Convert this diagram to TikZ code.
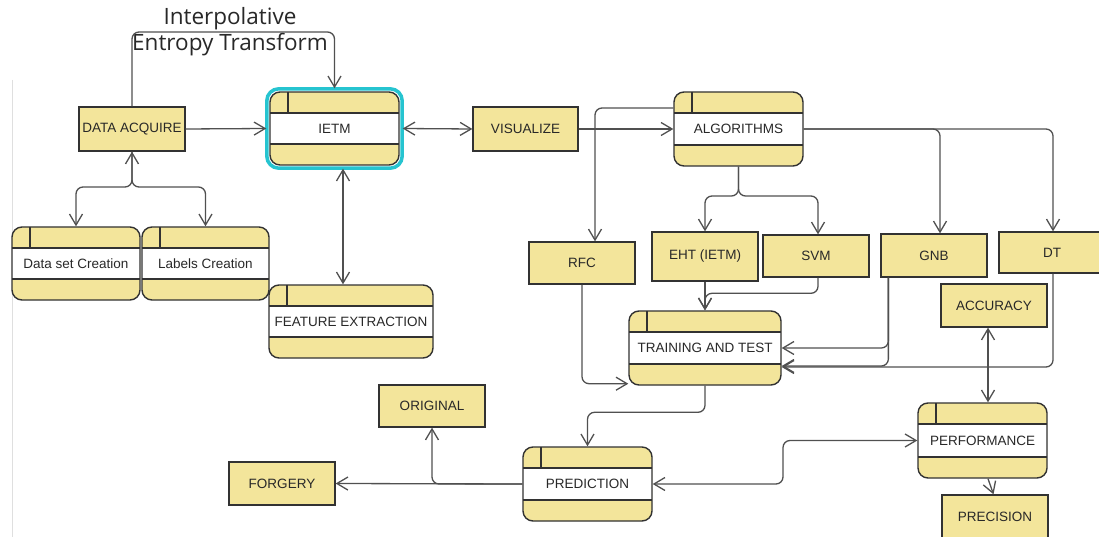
\documentclass[tikz,border=0pt]{standalone}
\usepackage{fontspec}
\setmainfont{Liberation Sans}
\newfontfamily\titlefont{Open Sans}
\usetikzlibrary{arrows.meta,calc}
\definecolor{yel}{RGB}{243,229,155}
\definecolor{bd}{RGB}{50,50,50}
\definecolor{ln}{RGB}{80,80,80}
\definecolor{tx}{RGB}{40,40,40}
\definecolor{cy}{RGB}{38,196,208}
\begin{document}
\begin{tikzpicture}[x=1pt,y=-1pt,
  >={Straight Barb[length=11pt,width=13pt]},
  lbl/.style={text=tx,font=\fontsize{13.5}{15}\selectfont},
  box/.style={lbl,draw=bd,line width=1.3pt,fill=yel,inner sep=0pt},
  proc/.style={lbl,draw=bd,line width=1.4pt,fill=yel,inner sep=0pt,rounded corners=10pt,
    path picture={
      \fill[white,sharp corners] ([yshift=-21pt]path picture bounding box.north west) rectangle ([yshift=21pt]path picture bounding box.south east);
      \draw[bd,line width=1.4pt,sharp corners] ([yshift=-21pt]path picture bounding box.north west) -- ([yshift=-21pt]path picture bounding box.north east);
      \draw[bd,line width=1.4pt,sharp corners] ([yshift=21pt]path picture bounding box.south west) -- ([yshift=21pt]path picture bounding box.south east);
      \draw[bd,line width=1.4pt,sharp corners] ([xshift=18pt]path picture bounding box.north west) -- ([xshift=18pt,yshift=-21pt]path picture bounding box.north west);
    }},
  conn/.style={draw=ln,line width=1.3pt,rounded corners=7pt},
]
\useasboundingbox (0,0) rectangle (1099,537);
\clip (0,0) rectangle (1099,537);
\fill[white] (0,0) rectangle (1099,537);
\draw[gray!25,line width=1pt] (12,80) -- (12,537);

% title
\node[anchor=base,text=tx,font=\titlefont\fontsize{22.5}{26}\selectfont] (title1) at (230,25) {Interpolative};
\node[anchor=base,text=tx,font=\titlefont\fontsize{22.5}{26}\selectfont] (title2) at (230,51) {Entropy Transform};

% rectangular boxes
\node[box,minimum width=106pt,minimum height=44pt] (da) at (132,129) {DATA ACQUIRE};
\node[box,minimum width=105pt,minimum height=44pt] (vis) at (525.5,129) {VISUALIZE};
\node[box,minimum width=106pt,minimum height=42pt] (rfc) at (582,263) {RFC};
\node[box,minimum width=106pt,minimum height=49pt] (eht) at (705,256.5) {EHT (IETM)};
\node[box,minimum width=106pt,minimum height=42pt] (svm) at (816,256) {SVM};
\node[box,minimum width=106pt,minimum height=43pt] (gnb) at (934,255.5) {GNB};
\node[box,minimum width=106pt,minimum height=41pt] (dt) at (1052,252.5) {DT};
\node[box,minimum width=106pt,minimum height=43pt] (acc) at (994,305.5) {ACCURACY};
\node[box,minimum width=106pt,minimum height=43pt] (prec) at (995,516.5) {PRECISION};
\node[box,minimum width=106pt,minimum height=42pt] (orig) at (432,406) {ORIGINAL};
\node[box,minimum width=106pt,minimum height=43pt] (forg) at (282,483.5) {FORGERY};

% process boxes
\node[proc,minimum width=129pt,minimum height=73pt] (ietm) at (334.5,128.5) {IETM};
\draw[cy,line width=3.5pt,rounded corners=12pt] ([shift={(-2.5pt,2.5pt)}]ietm.north west) rectangle ([shift={(2.5pt,-2.5pt)}]ietm.south east);
\node[proc,minimum width=128pt,minimum height=73pt] (ds) at (76,263.5) {Data set Creation};
\node[proc,minimum width=127pt,minimum height=73pt] (lab) at (205.5,263.5) {Labels Creation};
\node[proc,minimum width=164pt,minimum height=73pt] (feat) at (351,321.5) {FEATURE EXTRACTION};
\node[proc,minimum width=129pt,minimum height=74pt] (alg) at (738.5,129) {ALGORITHMS};
\node[proc,minimum width=152pt,minimum height=74pt] (train) at (705,348) {TRAINING AND TEST};
\node[proc,minimum width=129pt,minimum height=74pt] (pred) at (587.5,484) {PREDICTION};
\node[proc,minimum width=129pt,minimum height=75pt] (perf) at (982.5,440.5) {PERFORMANCE};

% junction coordinates
\coordinate (ty) at (230,32);
\coordinate (dj) at (132,187);
\coordinate (aj) at (738.5,196);
\coordinate (pj) at (783,484);

% connectors
\draw[conn,->] (da.north) |- (ty) -| ([yshift=3pt]ietm.north);
\draw[conn,->] (da.east) -- ([xshift=-3pt]ietm.west);
\draw[conn,<->] ([xshift=3pt]ietm.east) -- (vis.west);
\draw[conn,->] (vis.east) -- (alg.west);
\draw[conn,<->] (ds.north) |- (dj) -- (da.south);
\draw[conn,->] (da.south) -- (dj) -| (lab.north);
\draw[conn,<->] ([xshift=8.5pt,yshift=-3pt]ietm.south) -- ([xshift=8.5pt]ietm.south |- feat.north);
\draw[conn,->] ([yshift=21pt]alg.west) -| ([xshift=13pt]rfc.north);
\draw[conn,->] (alg.south) -- (aj) -| (eht.north);
\draw[conn,->] (alg.south) -- (aj) -| ([xshift=2pt]svm.north);
\draw[conn,->] (alg.east) -| ([xshift=6pt]gnb.north);
\draw[conn,->] (alg.east) -| ([xshift=1pt]dt.north);
\draw[conn,->] (eht.south) -- (train.north);
\draw[conn,->] ([xshift=2pt]svm.south) |- ([yshift=17pt]train.north) -- (train.north);
\draw[conn,->] (rfc.south) |- ([yshift=2pt]train.south west);
\draw[conn,->] ([xshift=8pt]gnb.south west) |- (train.east);
\draw[conn,->] ([xshift=8pt]gnb.south west) |- ([yshift=-18pt]train.east);
\draw[conn,->] ([xshift=1pt]dt.south) |- ([yshift=-19pt]train.east);
\draw[conn,<->] ([xshift=-6pt]acc.south) -- ([xshift=-6pt]acc.south |- perf.north);
\draw[conn,->] ([xshift=5.5pt]perf.south) -- ([xshift=-1.5pt]prec.north);
\draw[conn,->] (train.south) |- ([yshift=34pt]pred.north) -- (pred.north);
\draw[conn,<->] (pred.east) -- (pj) |- (perf.west);
\draw[conn,->] (pred.west) -- (forg.east);
\draw[conn,->] (pred.west) -| (orig.south);
\end{tikzpicture}
\end{document}
